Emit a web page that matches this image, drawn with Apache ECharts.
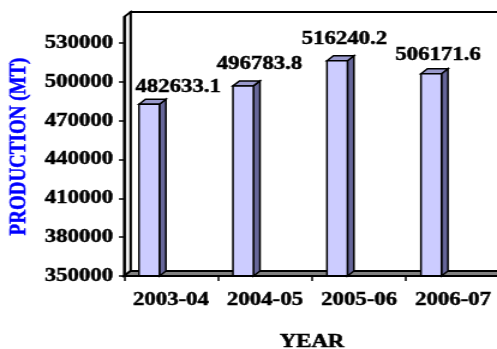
<!DOCTYPE html>
<html>
<head>
<meta charset="utf-8">
<script src="https://cdn.jsdelivr.net/npm/echarts@6/dist/echarts.min.js"></script>
<style>
  html, body { margin: 0; padding: 0; overflow: hidden; background: #fff; }
  /* the chart is laid out narrow and stretched sideways to the page width */
  #chart { width: 414px; height: 349px; transform: scaleX(1.2005); transform-origin: 0 0; }
</style>
</head>
<body>
<div id="chart"></div>
<script>
const years = ['2003-04', '2004-05', '2005-06', '2006-07'];
const production = [482633.1, 496783.8, 516240.2, 506171.6];
const yTicks = [350000, 380000, 410000, 440000, 470000, 500000, 530000];
const yMin = 350000;
const yMax = 550000;

// value-label nudges (px, relative to category centre / bar top)
const labelShift = [[5.8, -17], [-4.6, -21.5], [-12.1, -22], [-12.5, -19]];

const FONT = 'Liberation Serif';
const DX = 5.4, DY = 5;          // 3-D depth offset
const INK = '#000';

const chart = echarts.init(document.getElementById('chart'), null, { renderer: 'canvas' });

// walls and floor of the 3-D box
function renderFrame(params, api) {
  const cs = params.coordSys;
  const x = cs.x, y = cs.y, w = cs.width, h = cs.height;
  const st = { stroke: INK, lineWidth: 1.8, lineJoin: 'miter' };
  return {
    type: 'group',
    children: [
      { type: 'rect', shape: { x: x + DX, y: y - DY, width: w, height: h },
        style: { fill: '#fff' } },
      { type: 'polyline', shape: { points: [[x + DX, y + h - DY], [x + DX, y - DY], [x + w + DX, y - DY]] },
        style: Object.assign({ fill: null }, st) },
      { type: 'polygon', shape: { points: [[x, y], [x + DX, y - DY], [x + DX, y + h - DY], [x, y + h]] },
        style: Object.assign({ fill: '#f2f2f2' }, st) },
      { type: 'polygon', shape: { points: [[x, y + h], [x + DX, y + h - DY], [x + w + DX, y + h - DY], [x + w, y + h]] },
        style: Object.assign({ fill: '#808080' }, st) }
    ]
  };
}

// one 3-D column with its value label
function renderBar(params, api) {
  const i = api.value(0);
  const v = api.value(1);
  const top = api.coord([i, v]);
  const base = api.coord([i, yMin]);
  const band = api.size([1, 0])[0];
  const fw = band * 0.218;
  const xl = top[0] - band * 0.341;
  const xr = xl + fw;
  const yt = top[1], yb = base[1];
  const st = { stroke: INK, lineWidth: 1.5, lineJoin: 'miter' };
  const sh = labelShift[params.dataIndex];
  return {
    type: 'group',
    children: [
      { type: 'polygon', shape: { points: [[xr, yt], [xr + DX, yt - DY], [xr + DX, yb - DY], [xr, yb]] },
        style: Object.assign({ fill: '#666699' }, st) },
      { type: 'polygon', shape: { points: [[xl, yt], [xl + DX, yt - DY], [xr + DX, yt - DY], [xr, yt]] },
        style: Object.assign({ fill: '#9999cc' }, st) },
      { type: 'rect', shape: { x: xl, y: yt, width: fw, height: yb - yt },
        style: Object.assign({ fill: '#ccccff' }, st) },
      { type: 'text',
        style: { text: String(production[params.dataIndex]), x: top[0] + sh[0], y: yt + sh[1],
                 align: 'center', verticalAlign: 'middle', fill: INK,
                 stroke: INK, lineWidth: 0.5,
                 fontFamily: FONT, fontWeight: 'bold', fontSize: 19 } }
    ]
  };
}

const labelStyle = { color: INK, fontFamily: FONT, fontWeight: 'bold', fontSize: 19,
                     textBorderColor: INK, textBorderWidth: 0.5 };

chart.setOption({
  animation: false,
  grid: { left: 103.3, top: 17, width: 313.2, height: 259, containLabel: false, outerBoundsMode: 'none' },
  xAxis: {
    type: 'category',
    data: years,
    boundaryGap: true,
    z: 5,
    axisLine: { lineStyle: { color: INK, width: 1.8 } },
    axisTick: { show: true, length: 5, lineStyle: { color: INK, width: 1.5 } },
    axisLabel: Object.assign({ margin: 15, interval: 0 }, labelStyle),
    splitLine: { show: false },
    name: 'YEAR',
    nameLocation: 'middle',
    nameGap: 57,
    nameTextStyle: labelStyle
  },
  yAxis: {
    type: 'value',
    min: yMin,
    max: yMax,
    z: 5,
    axisLine: { show: true, lineStyle: { color: INK, width: 1.8 } },
    axisTick: { show: true, length: 4.2, customValues: yTicks, lineStyle: { color: INK, width: 1.5 } },
    axisLabel: Object.assign({ margin: 9, customValues: yTicks, formatter: v => String(v) }, labelStyle),
    splitLine: { show: false },
    name: 'PRODUCTION (MT)',
    nameLocation: 'middle',
    nameRotate: 90,
    nameGap: 75,
    nameTextStyle: Object.assign({}, labelStyle, { color: '#0000ff', textBorderColor: '#0000ff' })
  },
  series: [
    {
      type: 'custom',
      z: 1,
      clip: false,
      silent: true,
      renderItem: renderFrame,
      data: [[0, yMin]]
    },
    {
      type: 'custom',
      z: 2,
      clip: false,
      renderItem: renderBar,
      encode: { x: 0, y: 1 },
      data: production.map((v, i) => [i, v])
    }
  ]
});
</script>
</body>
</html>
